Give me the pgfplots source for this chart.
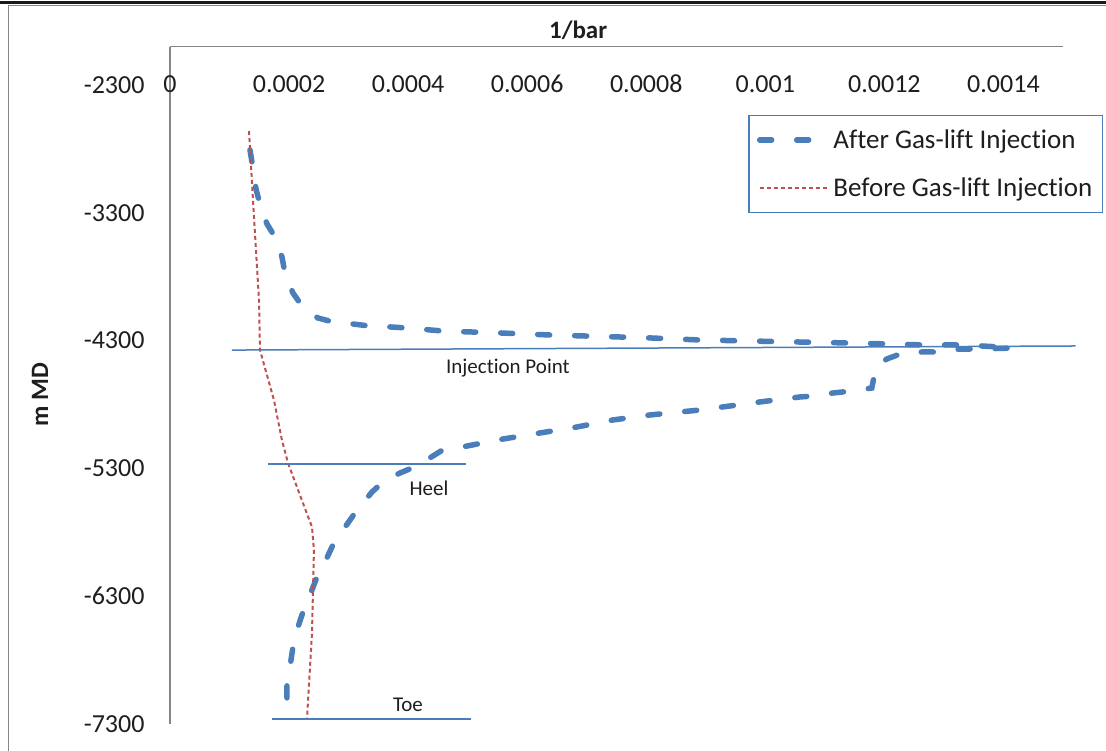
\documentclass[border=0pt]{standalone}
\usepackage{pgfplots}
\pgfplotsset{compat=1.18}
\usepackage{fontspec}
\setmainfont{Carlito}[Ligatures=NoCommon]
\definecolor{xblue}{HTML}{4A7EBB}
\definecolor{xred}{HTML}{C0504D}
\definecolor{xgray}{HTML}{868686}
\definecolor{xtext}{HTML}{1E1E1E}
\begin{document}
\begin{tikzpicture}[x=1pt,y=1pt]
\path[use as bounding box] (0,0) rectangle (1106,751);
% chart frame
\draw[line width=3pt,black!90] (0,748) -- (1106,748);
\draw[line width=1pt,xgray] (8,745) -- (1106,745);
\draw[line width=1pt,xgray] (8,745) -- (8,0);
\begin{axis}[
  at={(170pt,27pt)}, anchor=south west,
  scale only axis, width=893pt, height=677.3pt,
  xmin=0, xmax=0.0015, ymin=-7300, ymax=-2000,
  clip=false,
  scaled x ticks=false, scaled y ticks=false,
  axis x line*=top, axis y line*=left,
  axis line style={xgray, line width=1.2pt, -},
  major tick length=0pt,
  xtick={0,0.0002,0.0004,0.0006,0.0008,0.001,0.0012,0.0014},
  xticklabels={0,0.0002,0.0004,0.0006,0.0008,0.001,0.0012,0.0014},
  ytick={-2300,-3300,-4300,-5300,-6300,-7300},
  yticklabels={-2300,-3300,-4300,-5300,-6300,-7300},
  xticklabel pos=upper,
  x tick label style={font=\fontsize{26}{30}\selectfont, text=xtext, anchor=center, yshift=-37pt},
  y tick label style={font=\fontsize{26}{30}\selectfont, text=xtext, anchor=east, xshift=-22pt},
  xlabel={\textbf{1/bar}},
  xlabel style={at={(axis description cs:0.457,1.0247)}, anchor=center, font=\fontsize{25}{30}\selectfont, text=xtext},
  ylabel={\textbf{m MD}},
  ylabel style={at={(axis description cs:-0.1456,0.4858)}, anchor=center, rotate=0, font=\fontsize{25}{30}\selectfont, text=xtext},
  legend style={at={(axis description cs:1.0448,0.899)}, anchor=north east,
    draw=xblue, line width=1.3pt, fill=white,
    font=\fontsize{27}{30}\selectfont, text=xtext,
    inner xsep=8pt, inner ysep=12pt, row sep=24pt,
    /tikz/every even column/.append style={column sep=0pt}},
  legend cell align=left,
  legend image code/.code={\draw[#1] (0pt,0pt) -- (69pt,0pt);},
]
\addplot[xblue, line width=5.5pt, line cap=round, dash pattern=on 12pt off 25pt] coordinates {
(0.0001343,-2808) (0.0001394,-2949) (0.0001444,-3113) (0.0001511,-3231)
(0.0001629,-3387) (0.0001763,-3489) (0.0001881,-3646) (0.0001931,-3771)
(0.0002065,-3927) (0.0002217,-4029) (0.0002485,-4123) (0.0002737,-4154)
(0.0003073,-4170) (0.0003359,-4186) (0.0003694,-4193) (0.0003980,-4201)
(0.0004584,-4225) (0.0005542,-4240) (0.0006381,-4256) (0.0007506,-4271)
(0.0008060,-4279) (0.00089,-4295) (0.001058,-4311) (0.0011452,-4319)
(0.0012057,-4326) (0.0012678,-4334) (0.00133,-4334) (0.0013636,-4342)
(0.0013938,-4350) (0.0014156,-4358) (0.0013552,-4366) (0.0013266,-4366)
(0.001293,-4389) (0.0012628,-4389) (0.0012309,-4397) (0.001204,-4444)
(0.0011872,-4499) (0.0011839,-4553) (0.0011788,-4671) (0.0011452,-4694)
(0.0011134,-4710) (0.0010831,-4733) (0.001058,-4741) (0.0009908,-4780)
(0.00089,-4843) (0.000806,-4882) (0.0007439,-4921) (0.0006835,-4976)
(0.0006213,-5023) (0.0005592,-5070) (0.0004987,-5125) (0.0004551,-5164)
(0.0004148,-5281) (0.0003862,-5336) (0.0003577,-5406) (0.0003392,-5485)
(0.0003107,-5649) (0.0002905,-5782) (0.0002737,-5899) (0.0002603,-6032)
(0.0002469,-6150) (0.0002351,-6291) (0.0002233,-6424) (0.0002133,-6565)
(0.0002065,-6698) (0.0002015,-6854) (0.0001965,-6980) (0.0001965,-7136)
(0.0001948,-7269)
};
\addlegendentry{After Gas-lift Injection}
\addplot[xred, line width=2pt, dash pattern=on 4pt off 3pt] coordinates {
(0.0001327,-2660) (0.0001394,-3200) (0.0001444,-3591) (0.0001495,-3982)
(0.0001511,-4373) (0.0001746,-4765) (0.0001880,-5078) (0.0001982,-5258)
(0.0002133,-5446) (0.0002385,-5759) (0.0002418,-5939) (0.0002401,-6275)
(0.0002385,-6588) (0.0002301,-7261)
};
\addlegendentry{Before Gas-lift Injection}
\addplot[xblue, line width=1.5pt, forget plot] coordinates {(0.000104,-4374) (0.001521,-4342)};
\addplot[xblue, line width=1.5pt, forget plot] coordinates {(0.0001646,-5266) (0.000497,-5266)};
\addplot[xblue, line width=1.5pt, forget plot] coordinates {(0.0001713,-7261) (0.0005055,-7261)};
\node[font=\fontsize{21}{25}\selectfont, text=xtext] at (axis cs:0.0005676,-4514) {Injection Point};
\node[font=\fontsize{21}{25}\selectfont, text=xtext] at (axis cs:0.000435,-5453) {Heel};
\node[font=\fontsize{21}{25}\selectfont, text=xtext] at (axis cs:0.0003997,-7151) {Toe};
\end{axis}
\end{tikzpicture}
\end{document}
